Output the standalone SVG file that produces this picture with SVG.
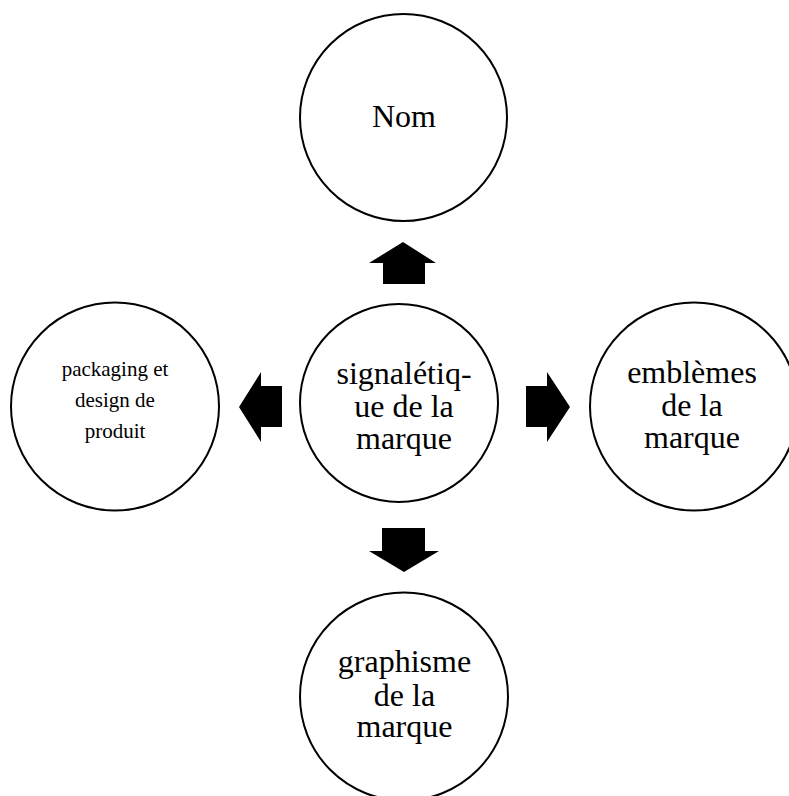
<svg xmlns="http://www.w3.org/2000/svg" width="789" height="796" viewBox="0 0 789 796">
  <style>
    .node circle { fill: #ffffff; stroke: #000000; stroke-width: 2; }
    .node text { font-family: "Liberation Serif", "Times New Roman", serif; font-size: 32px; fill: #000000; text-anchor: middle; }
    .node text.small { font-size: 21px; }
    .arrows polygon { fill: #000000; stroke: none; }
  </style>
  <rect x="0" y="0" width="789" height="796" fill="#ffffff"/>

  <!-- block arrows radiating from the central node -->
  <g id="connectors" class="arrows">
    <polygon points="403,242 436,263 425,263 425,284 383,284 383,263 369,263"/>
    <polygon points="404,572 439,551 425,551 425,528 382,528 382,551 369,551"/>
    <polygon points="239,407 261,372 261,386 282,386 282,427 261,427 261,442"/>
    <polygon points="570,407 547,372 547,386 526,386 526,427 547,427 547,442"/>
  </g>

  <g id="node-nom" class="node">
    <circle cx="403.5" cy="117.5" r="103.5"/>
    <text x="404" y="127">Nom</text>
  </g>

  <g id="node-signaletique" class="node">
    <circle cx="399" cy="403" r="99"/>
    <text x="404" y="384">signalétiq-</text>
    <text x="404" y="417">ue de la</text>
    <text x="404" y="449">marque</text>
  </g>

  <g id="node-packaging" class="node">
    <circle cx="115" cy="406.5" r="104"/>
    <text class="small" x="115" y="376">packaging et</text>
    <text class="small" x="115" y="407">design de</text>
    <text class="small" x="115" y="438">produit</text>
  </g>

  <g id="node-emblemes" class="node">
    <circle cx="694" cy="406.5" r="104"/>
    <text x="692" y="383">emblèmes</text>
    <text x="692" y="416">de la</text>
    <text x="692" y="448">marque</text>
  </g>

  <g id="node-graphisme" class="node">
    <circle cx="404" cy="696.5" r="104"/>
    <text x="404.5" y="672">graphisme</text>
    <text x="404.5" y="706">de la</text>
    <text x="404.5" y="737">marque</text>
  </g>
</svg>
